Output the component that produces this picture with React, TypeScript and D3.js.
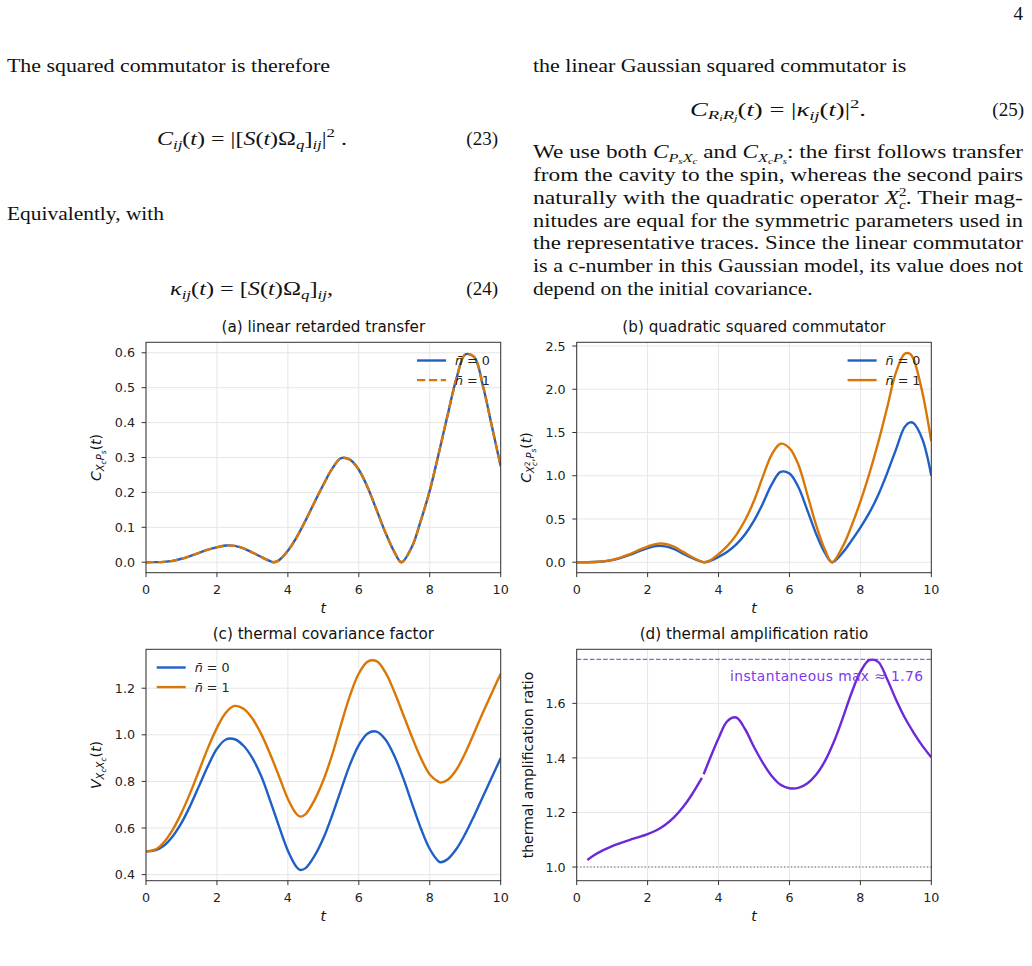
import React from "react";
import * as d3 from "d3";

// ---------------- data ----------------
const X_TICKS = [0, 2, 4, 6, 8, 10];

// (a) linear retarded transfer C_{XcPs}(t)
const T_LIN = [0, 0.25, 0.5, 0.75, 1, 1.25, 1.5, 1.75, 2, 2.25, 2.5, 2.75, 3, 3.25, 3.5, 3.6, 3.75, 4, 4.25, 4.5, 4.75, 5, 5.25, 5.5, 5.75, 6, 6.25, 6.5, 6.75, 7, 7.2, 7.5, 7.75, 8, 8.25, 8.5, 8.75, 9, 9.25, 9.5, 9.75, 10];
const C_LIN_N0 = [0, 0.0002, 0.001, 0.004, 0.01, 0.018, 0.027, 0.036, 0.043, 0.048, 0.047, 0.04, 0.028, 0.015, 0.003, 0, 0.006, 0.033, 0.072, 0.12, 0.172, 0.222, 0.268, 0.298, 0.294, 0.265, 0.214, 0.15, 0.085, 0.03, 0, 0.045, 0.12, 0.205, 0.31, 0.42, 0.525, 0.595, 0.588, 0.505, 0.39, 0.275];
const C_LIN_N1 = [0, 0.0002, 0.001, 0.004, 0.01, 0.018, 0.027, 0.036, 0.043, 0.048, 0.047, 0.04, 0.028, 0.015, 0.003, 0, 0.006, 0.033, 0.072, 0.12, 0.172, 0.222, 0.268, 0.298, 0.294, 0.265, 0.214, 0.15, 0.085, 0.03, 0, 0.045, 0.12, 0.205, 0.31, 0.42, 0.525, 0.595, 0.588, 0.505, 0.39, 0.275];
const Y_TICKS_A = [0, 0.1, 0.2, 0.3, 0.4, 0.5, 0.6];

// (b) quadratic squared commutator
const T_QUAD = [0, 0.25, 0.5, 0.75, 1, 1.25, 1.5, 1.75, 2, 2.25, 2.5, 2.75, 3, 3.25, 3.5, 3.6, 3.75, 4, 4.25, 4.5, 4.75, 5, 5.25, 5.5, 5.75, 6, 6.25, 6.5, 6.75, 7, 7.2, 7.5, 7.75, 8, 8.25, 8.5, 8.75, 9, 9.25, 9.4, 9.5, 9.75, 10];
const C_QUAD_N0 = [0, 0.0004, 0.002, 0.009, 0.025, 0.05, 0.085, 0.125, 0.163, 0.188, 0.183, 0.152, 0.1, 0.05, 0.009, 0, 0.014, 0.062, 0.122, 0.206, 0.323, 0.48, 0.68, 0.9, 1.045, 1.025, 0.87, 0.606, 0.33, 0.108, 0, 0.11, 0.25, 0.4, 0.57, 0.775, 1.025, 1.3, 1.565, 1.618, 1.608, 1.42, 1.0];
const C_QUAD_N1 = [0, 0.0004, 0.002, 0.0096, 0.027, 0.055, 0.095, 0.14, 0.181, 0.212, 0.212, 0.178, 0.12, 0.061, 0.011, 0, 0.019, 0.094, 0.189, 0.317, 0.488, 0.71, 0.99, 1.245, 1.37, 1.32, 1.13, 0.789, 0.432, 0.144, 0, 0.18, 0.42, 0.7, 1.02, 1.38, 1.78, 2.19, 2.41, 2.41, 2.35, 1.96, 1.4];
const Y_TICKS_B = [0, 0.5, 1.0, 1.5, 2.0, 2.5];

// (c) thermal covariance factor V_{XcXc}(t)
const T_COV = [0, 0.25, 0.5, 0.75, 1, 1.25, 1.5, 1.75, 2, 2.25, 2.5, 2.75, 3, 3.25, 3.5, 3.75, 4, 4.25, 4.35, 4.5, 4.75, 5, 5.25, 5.5, 5.75, 6, 6.25, 6.5, 6.75, 7, 7.25, 7.5, 7.75, 8, 8.25, 8.3, 8.5, 8.75, 9, 9.25, 9.5, 9.75, 10];
const V_N0 = [0.5, 0.504, 0.524, 0.564, 0.622, 0.697, 0.782, 0.867, 0.94, 0.98, 0.981, 0.953, 0.9, 0.822, 0.718, 0.607, 0.503, 0.432, 0.42, 0.428, 0.48, 0.556, 0.655, 0.765, 0.872, 0.956, 1.006, 1.014, 0.98, 0.91, 0.815, 0.705, 0.598, 0.51, 0.457, 0.453, 0.466, 0.51, 0.575, 0.652, 0.735, 0.818, 0.9];
const V_N1 = [0.5, 0.507, 0.538, 0.592, 0.665, 0.752, 0.848, 0.945, 1.03, 1.095, 1.124, 1.112, 1.07, 1.003, 0.918, 0.822, 0.725, 0.659, 0.649, 0.66, 0.72, 0.805, 0.915, 1.045, 1.168, 1.263, 1.314, 1.316, 1.268, 1.185, 1.088, 0.99, 0.9, 0.83, 0.798, 0.795, 0.806, 0.85, 0.922, 1.008, 1.096, 1.18, 1.262];
const Y_TICKS_C = [0.4, 0.6, 0.8, 1.0, 1.2];

// (d) thermal amplification ratio (null = masked point)
const T_RATIO = [0.3, 0.5, 0.75, 1, 1.25, 1.5, 1.75, 2, 2.25, 2.5, 2.75, 3, 3.25, 3.5, 3.53, 3.555, 3.58, 3.75, 4, 4.25, 4.5, 4.75, 5, 5.25, 5.5, 5.75, 6, 6.25, 6.5, 6.75, 7, 7.25, 7.5, 7.75, 8, 8.25, 8.5, 8.75, 9, 9.25, 9.5, 9.75, 10];
const RATIO = [1.026, 1.044, 1.062, 1.077, 1.089, 1.1, 1.11, 1.121, 1.135, 1.155, 1.183, 1.22, 1.266, 1.32, 1.327, null, 1.34, 1.395, 1.472, 1.535, 1.548, 1.505, 1.44, 1.382, 1.334, 1.302, 1.289, 1.29, 1.306, 1.338, 1.388, 1.458, 1.545, 1.638, 1.715, 1.758, 1.752, 1.69, 1.615, 1.548, 1.493, 1.444, 1.402];
const Y_TICKS_D = [1.0, 1.2, 1.4, 1.6];
const RATIO_REF = 1.0;
const RATIO_MAX = 1.761;

// ---------------- style ----------------
const BLUE = "#1f5fc6";
const ORANGE = "#d97706";
const PURPLE = "#6d28d9";
const PURPLE_LIGHT = "#8b5cf6";
const PLOT_FONT = "'DejaVu Sans', sans-serif";
const PAGE_FONT = "'Liberation Serif', 'DejaVu Serif', serif";
const FS_TICK = 12.7;
const FS_TITLE = 15.2;
const FS_LABEL = 14;
const FS_LEG = 12.7;
const LW = 2.4;
const CURVE = d3.curveCatmullRom.alpha(0.5);

type Series = {
  t: number[];
  v: (number | null)[];
  color: string;
  width: number;
  dash?: string;
};

type LegendItem = { label: string; color: string; dash?: string };

type Box = { l: number; r: number; t: number; b: number };

function Panel(props: {
  id: string;
  box: Box;
  yDomain: [number, number];
  yTicks: number[];
  title: string;
  ylabel: React.ReactNode;
  series: Series[];
  legend?: { items: LegendItem[]; side: "left" | "right" };
  extra?: (x: d3.ScaleLinear<number, number>, y: d3.ScaleLinear<number, number>) => React.ReactNode;
}) {
  const { id, box, yDomain, yTicks, title, ylabel, series, legend, extra } = props;
  const x = d3.scaleLinear().domain([0, 10]).range([box.l, box.r]);
  const y = d3.scaleLinear().domain(yDomain).range([box.b, box.t]);
  const cx = (box.l + box.r) / 2;
  const cy = (box.t + box.b) / 2;
  const fmt = d3.format(".1f");

  const paths = series.map((s) => {
    const gen = d3
      .line<number>()
      .defined((i) => s.v[i] != null)
      .x((i) => x(s.t[i]))
      .y((i) => y(s.v[i] as number))
      .curve(CURVE);
    return gen(d3.range(s.t.length)) || "";
  });

  let legendEls: React.ReactNode = null;
  if (legend) {
    const x0 = legend.side === "right" ? box.r - 54.7 - 29 : box.l + 10.7;
    legendEls = legend.items.map((it, i) => {
      const yy = box.t + 18.2 + i * 19.6;
      return (
        <g key={i}>
          <line x1={x0} x2={x0 + 29} y1={yy} y2={yy} stroke={it.color} strokeWidth={LW} strokeDasharray={it.dash} />
          <text x={x0 + 38} y={yy + 4.6} fontSize={FS_LEG} fontFamily={PLOT_FONT} fill="#222">
            <tspan fontStyle="italic">{"n\u0304"}</tspan>
            <tspan>{" = " + it.label}</tspan>
          </text>
        </g>
      );
    });
  }

  return (
    <g>
      <defs>
        <clipPath id={"clip-" + id}>
          <rect x={box.l} y={box.t} width={box.r - box.l} height={box.b - box.t} />
        </clipPath>
      </defs>
      {X_TICKS.map((v) => (
        <line key={"gx" + v} x1={x(v)} x2={x(v)} y1={box.t} y2={box.b} stroke="#e6e6e6" strokeWidth={1} />
      ))}
      {yTicks.map((v) => (
        <line key={"gy" + v} x1={box.l} x2={box.r} y1={y(v)} y2={y(v)} stroke="#e6e6e6" strokeWidth={1} />
      ))}
      <g clipPath={`url(#clip-${id})`}>
        {extra ? extra(x, y) : null}
        {series.map((s, i) => (
          <path key={i} d={paths[i]} fill="none" stroke={s.color} strokeWidth={s.width} strokeDasharray={s.dash} strokeLinejoin="round" />
        ))}
      </g>
      <rect x={box.l} y={box.t} width={box.r - box.l} height={box.b - box.t} fill="none" stroke="#333" strokeWidth={1} />
      {X_TICKS.map((v) => (
        <g key={"tx" + v}>
          <line x1={x(v)} x2={x(v)} y1={box.b} y2={box.b + 4.4} stroke="#333" strokeWidth={1} />
          <text x={x(v)} y={box.b + 21} textAnchor="middle" fontSize={FS_TICK} fontFamily={PLOT_FONT} fill="#222">
            {String(v)}
          </text>
        </g>
      ))}
      {yTicks.map((v) => (
        <g key={"ty" + v}>
          <line x1={box.l - 4.4} x2={box.l} y1={y(v)} y2={y(v)} stroke="#333" strokeWidth={1} />
          <text x={box.l - 11} y={y(v) + 4.6} textAnchor="end" fontSize={FS_TICK} fontFamily={PLOT_FONT} fill="#222">
            {fmt(v)}
          </text>
        </g>
      ))}
      <text x={cx} y={box.t - 10.3} textAnchor="middle" fontSize={FS_TITLE} fontFamily={PLOT_FONT} fill="#111">
        {title}
      </text>
      <text x={cx} y={box.b + 40.3} textAnchor="middle" fontSize={FS_LABEL} fontFamily={PLOT_FONT} fontStyle="italic" fill="#111">
        t
      </text>
      <g transform={`translate(${box.l - 45.5},${cy}) rotate(-90)`}>{ylabel}</g>
      {legendEls}
    </g>
  );
}

const SUB = 10;
const SUBSUB = 7.5;

function YLabelA() {
  return (
    <text textAnchor="middle" fontSize={FS_LABEL} fontFamily={PLOT_FONT} fill="#111">
      <tspan fontStyle="italic">C</tspan>
      <tspan fontStyle="italic" fontSize={SUB} dy={3}>X</tspan>
      <tspan fontStyle="italic" fontSize={SUBSUB} dy={2}>c</tspan>
      <tspan fontStyle="italic" fontSize={SUB} dy={-2}>P</tspan>
      <tspan fontStyle="italic" fontSize={SUBSUB} dy={2}>s</tspan>
      <tspan dy={-5}>(</tspan>
      <tspan fontStyle="italic">t</tspan>
      <tspan>)</tspan>
    </text>
  );
}

function YLabelB() {
  return (
    <text textAnchor="middle" fontSize={FS_LABEL} fontFamily={PLOT_FONT} fill="#111">
      <tspan fontStyle="italic">C</tspan>
      <tspan fontStyle="italic" fontSize={SUB} dy={3}>X</tspan>
      <tspan fontSize={SUBSUB} dy={-4}>2</tspan>
      <tspan fontStyle="italic" fontSize={SUBSUB} dx={-4.5} dy={7}>c</tspan>
      <tspan fontSize={SUB} dy={-3}>,</tspan>
      <tspan fontStyle="italic" fontSize={SUB}>P</tspan>
      <tspan fontStyle="italic" fontSize={SUBSUB} dy={2}>s</tspan>
      <tspan dy={-5}>(</tspan>
      <tspan fontStyle="italic">t</tspan>
      <tspan>)</tspan>
    </text>
  );
}

function YLabelC() {
  return (
    <text textAnchor="middle" fontSize={FS_LABEL} fontFamily={PLOT_FONT} fill="#111">
      <tspan fontStyle="italic">V</tspan>
      <tspan fontStyle="italic" fontSize={SUB} dy={3}>X</tspan>
      <tspan fontStyle="italic" fontSize={SUBSUB} dy={2}>c</tspan>
      <tspan fontStyle="italic" fontSize={SUB} dy={-2}>X</tspan>
      <tspan fontStyle="italic" fontSize={SUBSUB} dy={2}>c</tspan>
      <tspan dy={-5}>(</tspan>
      <tspan fontStyle="italic">t</tspan>
      <tspan>)</tspan>
    </text>
  );
}

function YLabelD() {
  return (
    <text textAnchor="middle" fontSize={FS_LABEL} fontFamily={PLOT_FONT} fill="#111" y={2}>
      thermal amplification ratio
    </text>
  );
}

// --------------- page text ---------------
const FS = 19;
const FS_S = 13.3;
const FS_SS = 9;

function PageText() {
  const it = { fontStyle: "italic" as const };
  return (
    <g fontFamily={PAGE_FONT} fill="#111" fontSize={FS}>
      <text x={1023} y={20} textAnchor="end">4</text>

      <text x={7} y={71.7} textLength={323} lengthAdjust="spacingAndGlyphs">The squared commutator is therefore</text>
      <text x={157} y={145.3} textLength={190} lengthAdjust="spacingAndGlyphs">
        <tspan {...it}>C</tspan>
        <tspan {...it} fontSize={FS_S} dy={4}>ij</tspan>
        <tspan dy={-4}>(</tspan>
        <tspan {...it}>t</tspan>
        <tspan>{") = |["}</tspan>
        <tspan {...it}>S</tspan>
        <tspan>(</tspan>
        <tspan {...it}>t</tspan>
        <tspan>{")\u03A9"}</tspan>
        <tspan {...it} fontSize={FS_S} dy={4}>q</tspan>
        <tspan dy={-4}>]</tspan>
        <tspan {...it} fontSize={FS_S} dy={4}>ij</tspan>
        <tspan dy={-4}>|</tspan>
        <tspan fontSize={FS_S} dy={-8}>2</tspan>
        <tspan dy={8}>{" ."}</tspan>
      </text>
      <text x={498} y={145.3} textAnchor="end">(23)</text>

      <text x={7} y={220} textLength={157} lengthAdjust="spacingAndGlyphs">Equivalently, with</text>
      <text x={170} y={294.6} textLength={163} lengthAdjust="spacingAndGlyphs">
        <tspan {...it}>{"\u03BA"}</tspan>
        <tspan {...it} fontSize={FS_S} dy={4}>ij</tspan>
        <tspan dy={-4}>(</tspan>
        <tspan {...it}>t</tspan>
        <tspan>{") = ["}</tspan>
        <tspan {...it}>S</tspan>
        <tspan>(</tspan>
        <tspan {...it}>t</tspan>
        <tspan>{")\u03A9"}</tspan>
        <tspan {...it} fontSize={FS_S} dy={4}>q</tspan>
        <tspan dy={-4}>]</tspan>
        <tspan {...it} fontSize={FS_S} dy={4}>ij</tspan>
        <tspan dy={-4}>,</tspan>
      </text>
      <text x={498} y={294.6} textAnchor="end">(24)</text>

      <text x={533} y={71.7} textLength={373.4} lengthAdjust="spacingAndGlyphs">the linear Gaussian squared commutator is</text>
      <text x={690} y={115.5} textLength={176} lengthAdjust="spacingAndGlyphs">
        <tspan {...it}>C</tspan>
        <tspan {...it} fontSize={FS_S} dy={3.5}>R</tspan>
        <tspan {...it} fontSize={FS_SS} dy={2}>i</tspan>
        <tspan {...it} fontSize={FS_S} dy={-2}>R</tspan>
        <tspan {...it} fontSize={FS_SS} dy={2}>j</tspan>
        <tspan dy={-5.5}>(</tspan>
        <tspan {...it}>t</tspan>
        <tspan>{") = |"}</tspan>
        <tspan {...it}>{"\u03BA"}</tspan>
        <tspan {...it} fontSize={FS_S} dy={4}>ij</tspan>
        <tspan dy={-4}>(</tspan>
        <tspan {...it}>t</tspan>
        <tspan>)|</tspan>
        <tspan fontSize={FS_S} dy={-8}>2</tspan>
        <tspan dy={8}>.</tspan>
      </text>
      <text x={1024} y={115.5} textAnchor="end">(25)</text>

      <text x={533} y={158.3} textLength={490} lengthAdjust="spacingAndGlyphs">
        <tspan>{"We use both "}</tspan>
        <tspan {...it}>C</tspan>
        <tspan {...it} fontSize={FS_S} dy={3.5}>P</tspan>
        <tspan {...it} fontSize={FS_SS} dy={2}>s</tspan>
        <tspan {...it} fontSize={FS_S} dy={-2}>X</tspan>
        <tspan {...it} fontSize={FS_SS} dy={2}>c</tspan>
        <tspan dy={-5.5}>{" and "}</tspan>
        <tspan {...it}>C</tspan>
        <tspan {...it} fontSize={FS_S} dy={3.5}>X</tspan>
        <tspan {...it} fontSize={FS_SS} dy={2}>c</tspan>
        <tspan {...it} fontSize={FS_S} dy={-2}>P</tspan>
        <tspan {...it} fontSize={FS_SS} dy={2}>s</tspan>
        <tspan dy={-5.5}>{": the first follows transfer"}</tspan>
      </text>
      <text x={533} y={181.3} textLength={490} lengthAdjust="spacingAndGlyphs">from the cavity to the spin, whereas the second pairs</text>
      <text x={533} y={204} textLength={490} lengthAdjust="spacingAndGlyphs">
        <tspan>{"naturally with the quadratic operator "}</tspan>
        <tspan {...it}>X</tspan>
        <tspan fontSize={12} dy={-8.5}>2</tspan>
        <tspan {...it} fontSize={12} dx={-6} dy={13}>c</tspan>
        <tspan dy={-4.5}>{". Their mag-"}</tspan>
      </text>
      <text x={533} y={226.7} textLength={490} lengthAdjust="spacingAndGlyphs">nitudes are equal for the symmetric parameters used in</text>
      <text x={533} y={249.3} textLength={490} lengthAdjust="spacingAndGlyphs">the representative traces. Since the linear commutator</text>
      <text x={533} y={271.9} textLength={490} lengthAdjust="spacingAndGlyphs">is a c-number in this Gaussian model, its value does not</text>
      <text x={533} y={294.6} textLength={279.7} lengthAdjust="spacingAndGlyphs">depend on the initial covariance.</text>
    </g>
  );
}

export default function App() {
  const boxA: Box = { l: 146, r: 500.7, t: 342.3, b: 572.7 };
  const boxB: Box = { l: 576.7, r: 931.3, t: 342.3, b: 572.7 };
  const boxC: Box = { l: 146, r: 500.7, t: 649.3, b: 880.7 };
  const boxD: Box = { l: 576.7, r: 931.3, t: 649.3, b: 880.7 };
  const yD = d3.scaleLinear().domain([0.95, 1.798]).range([boxD.b, boxD.t]);

  return (
    <svg
      width={1032}
      height={966}
      viewBox="0 0 1032 966"
      style={{ position: "absolute", left: 0, top: 0, background: "#fff" }}
    >
      <rect x={0} y={0} width={1032} height={966} fill="#fff" />
      <PageText />

      <Panel
        id="a"
        box={boxA}
        yDomain={[-0.03, 0.63]}
        yTicks={Y_TICKS_A}
        title="(a) linear retarded transfer"
        ylabel={<YLabelA />}
        series={[
          { t: T_LIN, v: C_LIN_N0, color: BLUE, width: LW },
          { t: T_LIN, v: C_LIN_N1, color: ORANGE, width: LW, dash: "8.3,3.6" },
        ]}
        legend={{
          side: "right",
          items: [
            { label: "0", color: BLUE },
            { label: "1", color: ORANGE, dash: "8.3,3.6" },
          ],
        }}
      />

      <Panel
        id="b"
        box={boxB}
        yDomain={[-0.121, 2.543]}
        yTicks={Y_TICKS_B}
        title="(b) quadratic squared commutator"
        ylabel={<YLabelB />}
        series={[
          { t: T_QUAD, v: C_QUAD_N0, color: BLUE, width: LW },
          { t: T_QUAD, v: C_QUAD_N1, color: ORANGE, width: LW },
        ]}
        legend={{
          side: "right",
          items: [
            { label: "0", color: BLUE },
            { label: "1", color: ORANGE },
          ],
        }}
      />

      <Panel
        id="c"
        box={boxC}
        yDomain={[0.374, 1.367]}
        yTicks={Y_TICKS_C}
        title="(c) thermal covariance factor"
        ylabel={<YLabelC />}
        series={[
          { t: T_COV, v: V_N0, color: BLUE, width: LW },
          { t: T_COV, v: V_N1, color: ORANGE, width: LW },
        ]}
        legend={{
          side: "left",
          items: [
            { label: "0", color: BLUE },
            { label: "1", color: ORANGE },
          ],
        }}
      />

      <Panel
        id="d"
        box={boxD}
        yDomain={[0.95, 1.798]}
        yTicks={Y_TICKS_D}
        title="(d) thermal amplification ratio"
        ylabel={<YLabelD />}
        series={[{ t: T_RATIO, v: RATIO, color: PURPLE, width: LW }]}
        extra={(x, y) => (
          <g>
            <line x1={x(0)} x2={x(10)} y1={y(RATIO_REF)} y2={y(RATIO_REF)} stroke="#666" strokeWidth={1.1} strokeDasharray="1.3,2.1" />
            <line x1={x(0)} x2={x(10)} y1={y(RATIO_MAX)} y2={y(RATIO_MAX)} stroke={PURPLE_LIGHT} strokeWidth={1.3} strokeDasharray="4.6,2" />
          </g>
        )}
      />
      <text
        x={730}
        y={yD(RATIO_MAX) + 21.4}
        fontSize={13.8}
        fontFamily={PLOT_FONT}
        fill="#7c3aed"
        textLength={193}
        lengthAdjust="spacing"
      >
        {"instantaneous max \u2248 " + d3.format(".2f")(RATIO_MAX)}
      </text>
    </svg>
  );
}
